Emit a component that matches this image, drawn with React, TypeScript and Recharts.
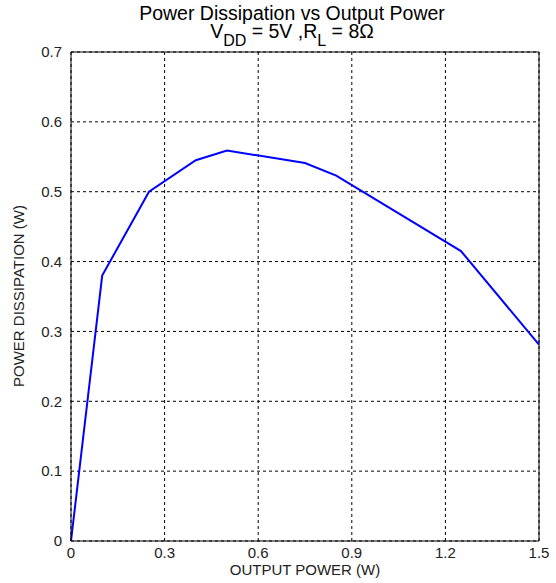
import React from 'react';
import { LineChart, Line, XAxis, YAxis, CartesianGrid, ReferenceLine } from 'recharts';

const outputPower = [0, 0.1, 0.25, 0.4, 0.5, 0.75, 0.85, 1.25, 1.5];
const powerDissipation = [0, 0.38, 0.5, 0.545, 0.559, 0.541, 0.523, 0.415, 0.281];
const xTicks = [0, 0.3, 0.6, 0.9, 1.2, 1.5];
const yTicks = [0, 0.1, 0.2, 0.3, 0.4, 0.5, 0.6, 0.7];

const data = outputPower.map((x, i) => ({ x, y: powerDissipation[i] }));

const font = '"Liberation Sans", Arial, sans-serif';

export default function App() {
  return (
    <div style={{ position: 'absolute', left: 0, top: 0, width: 556, height: 583, background: '#fff', fontFamily: font }}>
      <LineChart width={556} height={583} data={data} margin={{ top: 52, right: 17, bottom: 0, left: 0 }}>
        <CartesianGrid stroke="#000" strokeDasharray="3 3" strokeWidth={1} />
        <XAxis
          dataKey="x"
          type="number"
          domain={[0, 1.5]}
          ticks={xTicks}
          tickFormatter={(v: number) => String(v)}
          tickLine={false}
          axisLine={{ stroke: '#000' }}
          tick={{ fill: '#222', fontSize: 15, fontFamily: font }}
          tickMargin={0}
          height={42}
        />
        <YAxis
          type="number"
          domain={[0, 0.7]}
          ticks={yTicks}
          tickFormatter={(v: number) => String(v)}
          tickLine={false}
          axisLine={{ stroke: '#000' }}
          tick={{ fill: '#222', fontSize: 15, fontFamily: font }}
          tickMargin={3}
          width={71}
        />
        <ReferenceLine x={1.5} stroke="#000" strokeWidth={1} />
        <ReferenceLine y={0.7} stroke="#000" strokeWidth={1} />
        <Line type="linear" dataKey="y" stroke="#0000ff" strokeWidth={2} dot={false} isAnimationActive={false} />
      </LineChart>
      <div style={{ position: 'absolute', left: 0, width: 584, top: 4, textAlign: 'center', fontSize: 19.5, lineHeight: '18px', color: '#000' }}>
        Power Dissipation vs Output Power
      </div>
      <div style={{ position: 'absolute', left: 0, width: 584, top: 22, textAlign: 'center', fontSize: 19.5, lineHeight: '18px', color: '#000' }}>
        V<sub style={{ fontSize: 16, verticalAlign: '-8px', lineHeight: 0 }}>DD</sub> = 5V ,R<sub style={{ fontSize: 16, verticalAlign: '-8px', lineHeight: 0 }}>L</sub> = 8Ω
      </div>
      <div style={{ position: 'absolute', left: 71, width: 468, top: 561, textAlign: 'center', fontSize: 15, color: '#222' }}>
        OUTPUT POWER (W)
      </div>
      <div style={{ position: 'absolute', left: 19 - 150, top: 296 - 10, width: 300, height: 20, textAlign: 'center', fontSize: 15, color: '#222', transform: 'rotate(-90deg)', lineHeight: '20px' }}>
        POWER DISSIPATION (W)
      </div>
    </div>
  );
}
